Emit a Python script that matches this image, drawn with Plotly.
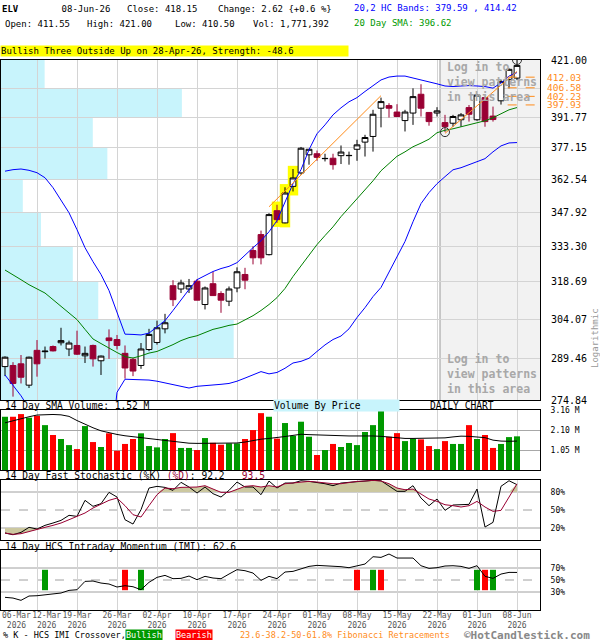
import math
import plotly.graph_objects as go

FONT = "DejaVu Sans Mono"
MAROON = "#990033"
ORANGE = "#ff8c1a"

# trading days shown on the chart
month_days = {
    3: [6, 9, 10, 11, 12, 13, 16, 17, 18, 19, 20, 23, 24, 25, 26, 27, 30, 31],
    4: [1, 2, 6, 7, 8, 9, 10, 13, 14, 15, 16, 17, 20, 21, 22, 23, 24, 27, 28, 29, 30],
    5: [1, 4, 5, 6, 7, 8, 11, 12, 13, 14, 15, 18, 19, 20, 21, 22, 26, 27, 28, 29],
    6: [1, 2, 3, 4, 5, 8],
}
dates = [f"2026-{m:02d}-{d:02d}" for m, days in month_days.items() for d in days]

tick_dates = ["2026-03-12", "2026-03-19", "2026-03-26", "2026-04-02", "2026-04-10",
              "2026-04-17", "2026-04-24", "2026-05-01", "2026-05-08", "2026-05-15",
              "2026-05-22", "2026-06-01", "2026-06-08"]
NB = "&nbsp;" * 4
tick_text = [NB + "12-Mar<br>" + NB + "2026", "19-Mar<br>2026", "26-Mar<br>2026", "02-Apr<br>2026",
             "10-Apr<br>2026", "17-Apr<br>2026", "24-Apr<br>2026", "01-May<br>2026",
             "08-May<br>2026", "15-May<br>2026", "22-May<br>2026", "01-Jun<br>2026",
             "08-Jun<br>2026"]

opens = [286.6, 287.0, 287.6, 280.0, 292.5, 292.0, 293.9, 295.3, 293.0, 294.3,
         290.5, 294.3, 288.7, 297.1, 296.5, 291.4, 289.2, 287.0, 292.8, 295.4,
         300.5, 317.2, 315.9, 315.9, 319.0, 309.8, 318.0, 314.1, 311.1, 316.3,
         321.7, 331.5, 338.2, 329.8, 348.5, 343.2, 359.3, 365.4, 373.8, 374.3,
         372.0, 372.2, 373.4, 373.4, 376.4, 379.8, 382.5, 396.3, 397.6, 394.4,
         390.2, 393.9, 403.3, 394.2, 393.9, 389.2, 388.9, 390.6, 396.6, 390.6,
         401.6, 392.4, 400.0, 410.9, 411.55]
highs = [290.3, 288.2, 290.8, 290.2, 296.3, 293.9, 294.3, 300.9, 296.1, 299.8,
         293.9, 294.6, 290.6, 300.3, 298.2, 294.3, 289.8, 295.2, 300.5, 303.6,
         306.2, 319.4, 319.6, 319.9, 319.9, 316.9, 322.8, 315.0, 316.9, 324.6,
         324.4, 333.3, 339.9, 347.4, 351.1, 358.9, 367.2, 377.5, 376.4, 375.8,
         374.3, 374.3, 378.2, 375.3, 380.9, 383.3, 395.5, 401.6, 398.8, 398.3,
         395.5, 406.3, 408.4, 394.4, 396.8, 393.0, 393.0, 393.9, 397.9, 403.3,
         402.1, 397.1, 410.6, 416.6, 421.00]
lows = [283.2, 276.0, 280.6, 279.0, 283.0, 289.5, 292.1, 294.3, 290.4, 290.8,
        287.9, 286.6, 283.6, 289.4, 292.8, 282.3, 283.2, 285.8, 292.2, 294.6,
        298.8, 309.2, 314.3, 314.3, 311.5, 307.9, 313.3, 306.6, 309.2, 314.6,
        315.8, 325.8, 325.8, 329.5, 343.2, 343.0, 357.0, 364.6, 369.2, 371.0,
        370.7, 366.9, 369.5, 369.2, 371.0, 373.0, 375.3, 386.9, 391.7, 391.9,
        384.9, 388.1, 392.2, 387.7, 392.2, 384.6, 387.2, 387.2, 389.7, 390.1,
        387.2, 389.7, 398.1, 406.3, 410.50]
closes = [290.0, 280.6, 282.8, 290.0, 287.6, 292.2, 292.3, 296.1, 295.2, 291.1,
          291.4, 289.4, 290.4, 296.1, 294.3, 286.1, 285.0, 293.0, 298.4, 300.9,
          302.8, 311.7, 318.3, 317.2, 311.5, 316.3, 313.3, 311.5, 315.9, 322.8,
          319.4, 328.5, 328.5, 346.8, 344.6, 356.3, 363.1, 376.9, 376.4, 372.6,
          372.1, 369.2, 375.1, 373.5, 378.5, 382.0, 393.3, 399.6, 396.3, 392.2,
          394.4, 402.1, 396.3, 389.7, 395.0, 387.2, 392.2, 393.0, 393.3, 402.9,
          389.7, 390.7, 409.7, 416.1, 418.15]

# 20,2 HC bands and 20 day SMA
upper_band = [366.2, 366.9, 367.2, 366.6, 365.5, 363.2, 358.7, 353.3, 347.6, 340.3,
              332.7, 326.9, 321.7, 315.3, 307.1, 298.5, 298.4, 298.2, 298.9, 301.3,
              303.6, 307.5, 311.7, 315.7, 319.6, 321.3, 322.9, 324.1, 325.0, 326.5,
              329.8, 332.7, 335.6, 339.4, 344.2, 352.4, 360.5, 366.9, 376.2, 383.8,
              388.1, 393.0, 396.5, 399.5, 401.6, 404.7, 407.8, 410.6, 412.1, 412.6,
              412.6, 411.6, 410.6, 409.9, 408.6, 407.5, 407.2, 407.5, 407.7, 407.5,
              407.2, 406.4, 409.1, 412.6, 414.42]
lower_band = [283.6, 279.8, 276.3, 272.0, 268.0, 264.0, 261.0, 258.0, 256.0, 254.0,
              253.0, 252.0, 252.0, 253.0, 277.5, 282.1, 282.0, 282.0, 281.8, 281.4,
              280.8, 280.4, 279.8, 279.0, 279.6, 279.8, 279.9, 280.3, 280.6, 281.4,
              282.5, 283.6, 284.8, 284.0, 284.5, 286.0, 287.9, 288.5, 289.6, 292.1,
              294.5, 296.5, 297.8, 300.5, 304.8, 308.6, 312.9, 316.5, 322.5, 328.6,
              335.3, 343.7, 351.6, 356.5, 360.5, 363.7, 366.85, 367.8, 369.2, 370.5,
              372.0, 375.2, 378.0, 379.4, 379.59]
sma20 = [323.5, 321.7, 319.6, 317.6, 316.1, 314.3, 311.7, 309.0, 306.3, 304.0,
         300.3, 296.7, 295.0, 293.5, 291.7, 290.2, 289.7, 290.5, 291.5, 292.1,
         293.2, 294.6, 296.1, 297.2, 297.9, 299.0, 300.3, 301.0, 301.8, 302.3,
         303.8, 305.5, 307.5, 309.8, 312.5, 316.1, 320.9, 325.3, 329.4, 334.0,
         337.8, 341.5, 345.9, 349.8, 354.2, 357.8, 361.8, 366.4, 369.6, 373.1,
         375.2, 377.6, 379.3, 381.2, 384.3, 385.5, 386.2, 387.2, 387.9, 389.2,
         390.1, 391.6, 393.5, 395.5, 396.62]

# price axis levels and volume-by-price (millions) per band, bottom to top
price_ticks = [274.84, 289.46, 304.07, 318.69, 333.30, 347.92, 362.54, 377.15, 391.77, 406.38, 421.00]
price_text = ["274.84", "289.46", "304.07", "318.69", "333.30", "347.92", "362.54", "377.15", "391.77", "", "421.00"]
vbp_volume = [12.7, 25.6, 10.7, 7.9, 4.4, 2.4, 11.7, 10.1, 19.9, 4.8]

# pattern, trend lines, fibonacci
pattern_dates = ["2026-04-24", "2026-04-27", "2026-04-28"]
trend1_dates = ["2026-04-23", "2026-05-13"]
trend1_prices = [350.2, 402.6]
trend2_dates = ["2026-05-26", "2026-06-08"]
trend2_prices = [384.0, 415.0]
pivot_dates = ["2026-05-26", "2026-06-08"]
pivot_prices = [384.6, 421.00]
fib_levels = [412.03, 406.58, 402.23, 397.93]

# volume (millions) and 14 day SMA of volume
volume = [2.80, 2.80, 2.94, 2.75, 2.85, 2.36, 1.84, 1.63, 1.31, 1.10,
          2.31, 1.47, 1.21, 1.93, 1.01, 1.37, 1.63, 1.93, 1.26, 1.19,
          1.63, 1.94, 1.16, 1.16, 1.05, 1.68, 1.43, 1.33, 1.40, 1.40,
          1.63, 2.10, 2.99, 2.80, 1.65, 2.47, 1.80, 2.54, 1.75, 0.79,
          1.05, 1.37, 1.21, 1.42, 1.31, 2.00, 2.36, 3.11, 1.75, 1.94,
          1.52, 1.65, 1.61, 1.26, 1.10, 1.52, 1.37, 1.37, 2.36, 1.63,
          1.84, 1.16, 1.37, 1.73, 1.77]
volume_sma = [2.48, 2.60, 2.71, 2.80, 2.89, 2.91, 2.92, 2.90, 2.82, 2.60,
              2.40, 2.22, 2.06, 1.95, 1.87, 1.80, 1.75, 1.70, 1.63, 1.58,
              1.54, 1.50, 1.45, 1.41, 1.40, 1.40, 1.40, 1.40, 1.40, 1.42,
              1.47, 1.55, 1.62, 1.66, 1.70, 1.76, 1.82, 1.88, 1.86, 1.84,
              1.83, 1.81, 1.80, 1.79, 1.79, 1.80, 1.79, 1.77, 1.73, 1.68,
              1.66, 1.66, 1.66, 1.66, 1.67, 1.69, 1.74, 1.78, 1.77, 1.74,
              1.70, 1.57, 1.52, 1.51, 1.52]

# 14 day fast stochastic
stoch_k = [11.6, 8.8, 12.7, 21.1, 18.3, 24.4, 28.3, 32.7, 41.1, 39.4,
           66.1, 56.1, 60.5, 79.4, 71.6, 33.8, 26.6, 50.5, 86.6, 89.4,
           87.7, 82.7, 96.1, 88.3, 78.3, 88.3, 77.2, 71.6, 82.7, 96.6,
           88.3, 88.3, 75.5, 98.3, 86.6, 94.9, 94.9, 98.8, 97.7, 96.1,
           93.8, 90.5, 94.9, 96.1, 97.2, 98.8, 99.4, 98.8, 90.5, 81.1,
           81.1, 90.5, 69.9, 57.2, 68.3, 49.4, 58.3, 58.8, 59.4, 84.9,
           21.6, 29.4, 89.5, 98.8, 92.2]
stoch_d = [11.6, 9.4, 10.5, 14.4, 17.7, 21.1, 24.4, 28.3, 33.8, 39.4,
           45.0, 53.3, 59.9, 66.1, 69.9, 57.2, 42.2, 38.3, 57.2, 75.5,
           86.6, 85.5, 87.7, 88.3, 88.3, 90.5, 84.9, 79.4, 79.4, 84.9,
           89.4, 90.5, 88.3, 90.5, 88.3, 93.8, 94.9, 96.1, 97.7, 96.6,
           94.9, 93.8, 93.8, 96.1, 97.7, 98.3, 99.4, 98.3, 93.8, 86.6,
           83.8, 84.9, 77.2, 68.3, 64.4, 58.8, 57.2, 55.0, 57.2, 64.4,
           55.0, 47.7, 49.4, 72.7, 93.5]

# 14 day HCS intraday momentum and %K crossovers
imi = [21.1, 19.9, 16.1, 23.3, 23.8, 25.5, 26.6, 28.3, 32.7, 33.8,
       47.7, 48.3, 44.9, 43.3, 38.3, 40.5, 38.8, 33.8, 46.1, 54.4,
       57.7, 52.2, 52.7, 56.6, 50.5, 56.1, 53.3, 52.2, 59.9, 67.2,
       65.5, 61.6, 49.4, 56.1, 52.2, 63.3, 64.4, 68.3, 72.7, 74.4,
       73.8, 73.8, 72.2, 70.5, 73.8, 76.6, 88.8, 87.7, 93.3, 86.6,
       86.6, 86.6, 73.8, 69.4, 70.5, 73.3, 73.8, 72.7, 69.4, 73.8,
       56.1, 52.7, 59.9, 62.7, 62.6]
bullish_dates = ["2026-03-13", "2026-03-31", "2026-05-12", "2026-06-01", "2026-06-03"]
bearish_dates = ["2026-03-27", "2026-05-08", "2026-05-13", "2026-06-02"]

W, H = 600, 640


def px(x):
    return x / W


def py(y):
    return 1 - y / H


fig = go.Figure()

# invisible anchor for the volume-by-price axis
fig.add_trace(go.Scatter(x=vbp_volume, y=price_ticks[1:], xaxis="x5", yaxis="y", mode="markers",
                         marker=dict(opacity=0), hoverinfo="skip"))

# yellow boxes behind the pattern candles
idx = [dates.index(d) for d in pattern_dates]
box_lo = [lows[i] * 0.995 for i in idx]
box_hi = [highs[i] * 1.004 for i in idx]
fig.add_trace(go.Bar(x=pattern_dates, y=[h - l for h, l in zip(box_hi, box_lo)], base=box_lo,
                     width=1.3, marker=dict(color="#ffff00", line_width=0), hoverinfo="skip"))

fig.add_trace(go.Candlestick(
    x=dates, open=opens, high=highs, low=lows, close=closes, whiskerwidth=0,
    increasing=dict(line=dict(color="black", width=1), fillcolor="white"),
    decreasing=dict(line=dict(color=MAROON, width=1), fillcolor=MAROON)))

fig.add_trace(go.Scatter(x=dates, y=sma20, mode="lines", line=dict(color="#008000", width=1)))
fig.add_trace(go.Scatter(x=dates, y=upper_band, mode="lines", line=dict(color="#0000ff", width=1)))
fig.add_trace(go.Scatter(x=dates, y=lower_band, mode="lines", line=dict(color="#0000ff", width=1)))
fig.add_trace(go.Scatter(x=trend1_dates, y=trend1_prices, mode="lines", line=dict(color=ORANGE, width=1)))
fig.add_trace(go.Scatter(x=trend2_dates, y=trend2_prices, mode="lines", line=dict(color=ORANGE, width=1)))
fig.add_trace(go.Scatter(x=pivot_dates, y=pivot_prices, mode="markers",
                         marker=dict(symbol="circle-open", size=9, color="#333333", line=dict(width=1))))

# volume panel
vol_colors = ["#009900" if c >= o else "#ff0000" for o, c in zip(opens, closes)]
fig.add_trace(go.Bar(x=dates, y=volume, width=0.75, marker=dict(color=vol_colors, line_width=0),
                     xaxis="x2", yaxis="y2"))
fig.add_trace(go.Scatter(x=dates, y=volume_sma, mode="lines", line=dict(color="black", width=1),
                         xaxis="x2", yaxis="y2"))

# stochastic panel with shaded extremes
KHAKI = "#ccc8a0"
fig.add_trace(go.Scatter(x=dates, y=[80] * len(dates), mode="lines", line=dict(width=0),
                         xaxis="x3", yaxis="y3", hoverinfo="skip"))
fig.add_trace(go.Scatter(x=dates, y=[max(v, 80) for v in stoch_d], mode="lines", line=dict(width=0),
                         fill="tonexty", fillcolor=KHAKI, xaxis="x3", yaxis="y3", hoverinfo="skip"))
fig.add_trace(go.Scatter(x=dates, y=[20] * len(dates), mode="lines", line=dict(width=0),
                         xaxis="x3", yaxis="y3", hoverinfo="skip"))
fig.add_trace(go.Scatter(x=dates, y=[min(v, 20) for v in stoch_d], mode="lines", line=dict(width=0),
                         fill="tonexty", fillcolor=KHAKI, xaxis="x3", yaxis="y3", hoverinfo="skip"))
fig.add_trace(go.Scatter(x=dates, y=stoch_k, mode="lines", line=dict(color="black", width=1),
                         xaxis="x3", yaxis="y3"))
fig.add_trace(go.Scatter(x=dates, y=stoch_d, mode="lines", line=dict(color=MAROON, width=1),
                         xaxis="x3", yaxis="y3"))

# IMI panel
fig.add_trace(go.Bar(x=bullish_dates, y=[34] * len(bullish_dates), base=33, width=0.75,
                     marker=dict(color="#009900", line_width=0), xaxis="x4", yaxis="y4"))
fig.add_trace(go.Bar(x=bearish_dates, y=[34] * len(bearish_dates), base=33, width=0.75,
                     marker=dict(color="#ff0000", line_width=0), xaxis="x4", yaxis="y4"))
fig.add_trace(go.Scatter(x=dates, y=imi, mode="lines", line=dict(color="black", width=1),
                         xaxis="x4", yaxis="y4"))

x_dom = [px(1), px(540)]
frame = dict(showline=True, mirror=True, linecolor="black", linewidth=1, zeroline=False, automargin=False)
xbase = dict(type="category", categoryorder="array", categoryarray=dates, range=[-0.5, 66.875],
             tickmode="array", tickvals=tick_dates, ticktext=tick_text, showticklabels=False,
             showgrid=True, gridcolor="#d4d4d4", ticks="", tickangle=0, domain=x_dom, **frame)
yright = dict(side="right", ticks="outside", ticklen=8, tickcolor="rgba(0,0,0,0)", **frame)

fig.update_layout(
    width=W, height=H, margin=dict(l=0, r=0, t=0, b=0),
    paper_bgcolor="white", plot_bgcolor="white", showlegend=False,
    font=dict(family=FONT, color="black"), barmode="overlay", boxgap=0.15, boxgroupgap=0.15,
    xaxis=dict(anchor="y", rangeslider=dict(visible=False), **xbase),
    yaxis=dict(domain=[py(400), py(60)], type="log", range=[math.log10(price_ticks[0]), math.log10(price_ticks[-1])],
               tickmode="array", tickvals=price_ticks, ticktext=price_text, tickfont=dict(size=10),
               showgrid=True, gridcolor="#d4d4d4", **yright),
    xaxis2=dict(anchor="y2", matches="x", **xbase),
    yaxis2=dict(domain=[py(470), py(410)], range=[0, 3.155], tickmode="array",
                tickvals=[1.05, 2.10, 3.155], ticktext=["1.05 M", "2.10 M", "3.16 M"],
                tickfont=dict(size=8), showgrid=True, gridcolor="#a8a8a8", **yright),
    xaxis3=dict(anchor="y3", matches="x", **xbase),
    yaxis3=dict(domain=[py(540), py(480)], range=[0, 100], tickmode="array", tickvals=[20, 50, 80],
                ticktext=["20%", "50%", "80%"], tickfont=dict(size=8), showgrid=False, **yright),
    xaxis4=dict(anchor="y4", matches="x", **{**xbase, "showticklabels": True, "ticklabelstandoff": -3,
                                              "tickfont": dict(size=8, color="#555555")}),
    yaxis4=dict(domain=[py(610), py(550)], range=[0, 100], tickmode="array", tickvals=[30, 50, 70],
                ticktext=["30%", "50%", "70%"], tickfont=dict(size=8), showgrid=False, **yright),
    xaxis5=dict(overlaying="x", anchor="y", range=[0, 59.3], visible=False),
)

shapes = []
# volume by price bands
for lo, hi, v in zip(price_ticks[:-1], price_ticks[1:], vbp_volume):
    shapes.append(dict(type="rect", xref="x5", yref="y", x0=0, x1=v, y0=lo, y1=hi,
                       fillcolor="#c8f4fc", line_width=0, layer="below"))
# locked pattern area
shade_x0 = (440 - 1) / 539
shapes.append(dict(type="rect", xref="x domain", yref="y domain", x0=shade_x0, x1=1, y0=0, y1=1,
                   fillcolor="#f2f2f2", line_width=0, layer="below"))
shapes.append(dict(type="line", xref="x domain", yref="y domain", x0=shade_x0, x1=shade_x0, y0=0, y1=1,
                   line=dict(color="#999999", width=1), layer="below"))
for lvl in fib_levels:
    shapes.append(dict(type="line", xref="x domain", yref="y", x0=0.94, x1=1, y0=lvl, y1=lvl,
                       line=dict(color=ORANGE, width=1, dash="dash")))
for ax, levels in (("y3", (20, 50, 80)), ("y4", (30, 50, 70))):
    for lvl in levels:
        shapes.append(dict(type="line", xref="x domain", yref=ax, x0=0, x1=1, y0=lvl, y1=lvl,
                           line=dict(color="#a0a0a0", width=1, dash="dash" if lvl == 50 else "solid"),
                           layer="below"))
fig.update_layout(shapes=shapes)


def note(text, x, y, size=9, color="black", **kw):
    d = dict(text=text, x=px(x), y=py(y), xref="paper", yref="paper", xanchor="left", yanchor="middle",
             showarrow=False, font=dict(family=FONT, size=size, color=color))
    d.update(kw)
    return d


ann = [
    note("<b>ELV</b>" + "&nbsp;" * 8 + "08-Jun-26", 0, 9),
    note("Close: 418.15", 125, 9),
    note("Change: 2.62 {+0.6 %}", 216, 9),
    note("20,2 HC Bands: 379.59 , 414.42", 352, 8, color="#0000ff"),
    note("Open: 411.55", 3, 24),
    note("High: 421.00", 85, 24),
    note("Low: 410.50", 173, 24),
    note("Vol: 1,771,392", 251, 24),
    note("20 Day SMA: 396.62", 352, 23, color="#009900"),
    note("Bullish Three Outside Up on 28-Apr-26, Strength: -48.6", 0, 51.5, bgcolor="#ffff00",
         width=347, align="left", borderpad=0),
    note("<b>Log in to<br>view patterns<br>in this area</b>", 445, 82, size=11.5, color="#a8a8a8", align="left"),
    note("<b>Log in to<br>view patterns<br>in this area</b>", 445, 374, size=11.5, color="#a8a8a8", align="left"),
    note("Logarithmic", 595, 338, color="#999999", textangle=-90, xanchor="center"),
    note("14 Day SMA Volume: 1.52 M", 3, 405.5, size=9.6),
    note("Volume By Price", 273, 405.5, size=9.6, bgcolor="#c8f4fc", width=125, align="left", borderpad=0),
    note("DAILY CHART", 462, 405.5, size=9.6, xanchor="center"),
    note('14 Day Fast Stochastic (%K) <span style="color:#990033">(%D)</span>: 92.2'
         '&nbsp;&nbsp;&nbsp;<span style="color:#990033">93.5</span>', 3, 475.5, size=9.6),
    note("14 Day HCS Intraday Momentum (IMI): 62.6", 3, 546, size=9.6),
    note("06-Mar<br>2026", 0, 620.5, size=8, color="#555555", align="center"),
    note("% K - HCS IMI Crossover,", 1, 635, size=8.5),
    note("Bullish", 125, 635, size=8.5, color="white", bgcolor="#009900", borderpad=0),
    note("Bearish", 175, 635, size=8.5, color="white", bgcolor="#ff0000", borderpad=0),
    note("23.6-38.2-50-61.8% Fibonacci Retracements", 238, 635, size=8.5, color=ORANGE),
    note("<b>©HotCandlestick.com</b>", 462, 635, size=11, color="#888888"),
]
for lvl in fib_levels:
    ann.append(dict(text=f"{lvl:.2f}", x=px(545), y=math.log10(lvl), xref="paper", yref="y",
                    xanchor="left", yanchor="middle", showarrow=False,
                    font=dict(family=FONT, size=9.5, color=ORANGE)))
fig.update_layout(annotations=ann)

fig.write_html("out.html", config={"staticPlot": True, "displayModeBar": False},
               post_script="document.body.style.margin='0px';")
